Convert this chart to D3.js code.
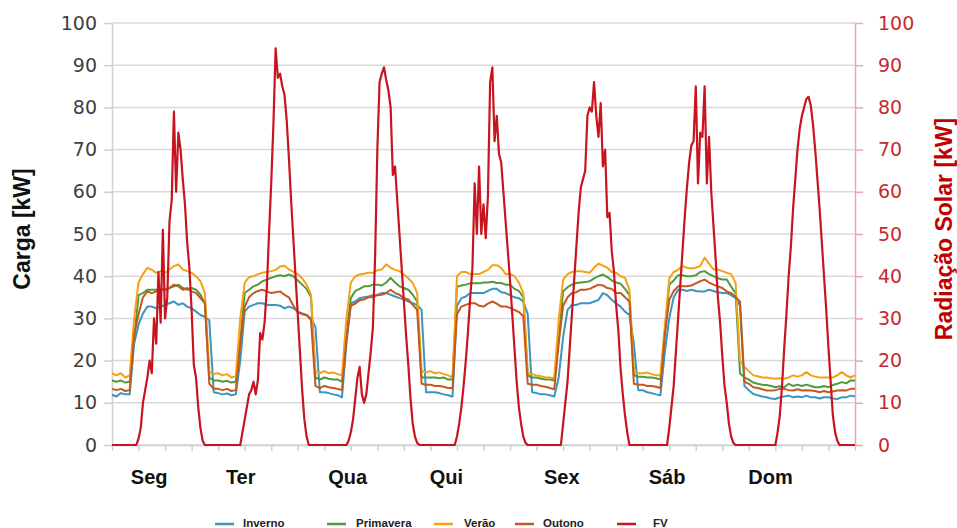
<!DOCTYPE html>
<html><head><meta charset="utf-8">
<script src="https://cdn.jsdelivr.net/npm/d3@7"></script>
<style>body{margin:0;background:#fff}svg{display:block}</style>
</head><body>
<svg id="c" width="957" height="528"></svg>
<script>
// ---------- DATA ----------
const dayLabels = ["Seg","Ter","Qua","Qui","Sex","Sáb","Dom"];
const dayLabelHours = [8.4, 29.1, 53.3, 75.6, 101.7, 125.5, 148.9];
const yTicks = [0,10,20,30,40,50,60,70,80,90,100];
const xTickHours = [0,6,12,18,24,30,36,42,48,54,60,66,72,78,84,90,96,102,108,114,120,126,132,138,144,150,156,162,168];
const seriesNames = ["Inverno","Primavera","Verão","Outono","FV"];

// hourly loads (h = 0..168)
const inverno = [
 11.9,11.5,12.3,12,12,24,28.5,31.2,32.8,32.8,32.4,32.8,33.2,33.6,34,33.2,33.6,32.8,32.4,31.6,30.8,30.4,29.5,12.5,
 12.3,12,12.2,11.8,12,20,31.6,32.8,33.2,33.6,33.6,33.2,33.2,33.2,33,32.4,32.8,32.4,31.6,31.2,30.8,30,28,12.5,
 12.5,12.3,12,11.8,11.3,24,33.6,34,34.8,35,35.2,35.5,35.6,36,36,35.6,35.2,34.8,34.5,34,33.6,33.2,32,12.5,
 12.5,12.5,12.3,12,11.8,11.5,33,34.8,35.2,36,36,36,36,36.5,37,37,36.2,36,35.5,35,34.8,34,31,12.5,
 12.3,12,12,11.8,11.5,16,25.6,32,33.2,33.2,33.6,33.6,33.6,34,34.4,36,35.5,34.4,33.5,32.8,31.6,30.8,24,13,
 13,12.5,12.3,12,11.8,22,30,35,36.8,36.8,36.5,36.8,36.5,36.4,36.4,36.8,36.5,36.2,36,36,35.5,34.8,33,14,
 13,12.1,11.8,11.5,11.3,11,10.9,11.3,11.5,11.7,11.3,11.5,11.3,11.7,11.3,11.3,11,11.3,11.3,11,10.9,11.3,11.3,11.7,11.5
];
const primavera = [
 15.3,15,15.3,14.8,15,25,35.5,36,36.8,36.8,36.8,37,36.8,37.2,37.6,38,37.2,36.8,37.2,36.8,35.6,33.6,16,15.3,
 15.3,15,15.2,14.8,15,25,36,36.8,37.6,38,38.8,39.2,39.6,40,40.2,40,40.4,40,39,38,37,35,16,15.5,
 16,15.7,15.5,15.5,15,26,34.8,36.5,37,37.6,37.6,38,38,37.8,38.5,39.6,38.5,37.6,37.2,36.8,35.6,34,16,16,
 16,16,15.8,16,15.5,15.5,37.5,37.8,38,38.3,38.3,38.3,38.5,38.5,38.7,38.4,38.4,38,38,37,36.5,35,16.5,16,
 16,15.7,15.5,15.5,15.3,25,36.4,37.4,38,38.4,38.5,38.6,38.8,39.5,40,40.4,39.8,39,38.5,38.2,37,35.5,16.5,16.2,
 16.2,16,16,15.8,15.5,27,38,39,40.2,40.2,40,40,40.2,41,41.2,40.5,40,39.5,39.2,39.2,37.5,36,17,16,
 15.5,14.8,14.5,14.3,14.2,14,13.7,13.9,13.7,14.5,14,14.3,14,14.3,14,13.7,13.7,14,13.7,14.2,14.5,14.9,14.6,15.3,15.3
];
const verao = [
 17,16.5,17,16,16.5,30,38.5,40.5,42,41.5,40.8,41.2,40.8,41.6,42.4,42.8,41.6,41.2,40.8,40,38.8,36,17.3,16.9,
 17,16.5,16.8,16,16.3,30,38.5,39.8,40,40.5,40.8,41,41.2,41.5,42.3,42.5,41.6,41,40.5,39.5,38,35.5,17.5,17,
 17.5,17,17.2,16.8,16.5,30,38.5,40,40.4,40.6,40.8,40.8,41.4,41.6,42.8,42,41.5,41.2,40.4,39.5,38.4,36,17.5,17.2,
 17.5,17,17.2,16.8,16.5,16,40,41,41,40.5,40.5,40.5,41,41.5,42.6,42.6,42,40.5,40.5,40,38.5,36,17,16.8,
 16.5,16.3,16,16,15.8,29.6,39.2,40.5,41,41.2,41.2,41,40.8,42,43,42.5,42,41,40.8,40,39.6,36.8,17.3,17,
 17,17.2,16.8,16.5,16.5,28,39.5,41,41.5,42.4,42,41.8,42,42.4,44.4,43,41.6,41.6,41.2,40.8,40.5,38.4,20,18.5,
 17.5,16.5,16.3,16,16,15.8,15.7,15.8,15.7,16,16.5,16.2,16.5,17.3,16.5,16.2,16,16,16,16,16.5,17.3,16.5,16,16.5
];
const outono = [
 13.3,13,13.3,12.8,13,26,31,35,36.4,36,36.4,36.8,36.8,37.2,38,37.6,36.8,37.2,36.4,36,34.8,33.6,14.5,13.3,
 13.3,13,13.3,12.8,13,24,32.8,35,36,36.5,36.8,36.4,36,36.2,36.4,35.6,35,33,31.5,31,30.8,29.6,14,13.5,
 14,13.7,13.5,13.3,13,25,33,33.5,34.3,34.5,35,35,35.5,35.6,36,36.8,36,35.6,34.8,34.5,33.2,32,14.5,14.3,
 14.3,14,14,13.8,13.5,13.5,31,32.8,33.2,33.6,33.6,33,32.8,33.5,34,33.5,32.8,32.8,32.5,32,31.5,30.5,14.5,14.3,
 14.3,14,13.8,13.5,13.2,24,33,35,36,36.2,36.8,36.8,37,37.5,38,37.8,37.2,37,36,36,35,34,14.5,14.3,
 14.3,14,14,13.8,13.5,26,34.4,36.5,37.6,37.6,37.6,37.8,38.3,38.8,39.2,38.5,38,37.6,37.2,36.4,36,35,34,15,
 14.5,13.7,13.5,13.2,12.9,12.9,13,13.3,13.3,13,12.9,13.2,12.9,13,12.9,12.8,12.5,12.8,12.5,12.7,12.9,13,12.9,13.3,13.3
];

// PV (FV) every half hour, one array per day
const fvSeg = [0,0,0,0,0,0,0,0,0,0,0,0,1.5,4,10,13,16,20,17,30,24,41,29,51,30,35,53,58,79,60,74,70,63,57,48,42,32,19,16,9,4,1,0,0,0,0,0,0];
const fvTer = [0,0,0,0,0,0,0,0,0,0,0,3,6,9,12,13,15,12,15.5,26.5,25,29,37,50,62,76,94,87,88,85,83,77,68,58,49,40,31,22,13,6,2,0,0,0,0,0,0,0];
const fvQua = [0,0,0,0,0,0,0,0,0,0,0,1,3,6,11,16,18.5,12,10,12,17,22,28,45,70,86,88,89.5,86.5,84,80,64,66,58,50,42,34,26,19,11,5,2,0.5,0,0,0,0,0];
const fvQui = [0,0,0,0,0,0,0,0,0,0,0,0,2,5,9,14,20,27,35,42,62,50,66,50,57,49,59,86,89.5,72,78,69,67,60,53,46,39,31,23,15,9,5,2,0.5,0,0,0,0];
const fvSex = [0,0,0,0,0,0,0,0,0,0,0,0,5,10,15,23,31,39,47,55,61,63,65,78,80,79,86,78,73,81,66,70,54,55,46,41,33,27,18,12,7,3,0,0,0,0,0,0];
const fvSab = [0,0,0,0,0,0,0,0,0,0,0,0,4,9,14,22,30,38,46,54,61,67,71,72,85,62,74,73,85,62,73,60,52,44,35,29,21,14,10,5,2,0.5,0,0,0,0,0,0];
const fvDom = [0,0,0,0,0,0,0,0,0,0,0,0,0,3,7,14,23,31,40,47,56,63,70,75,78,80,82,82.5,80.5,76,70,63,56,48,40,32,23,15,7,3,1,0,0,0,0,0,0,0,0];

// ---------- CHART ----------
const colors = {"Inverno":"#3a95bf","Primavera":"#4f9a3c","Verão":"#f7a014","Outono":"#c4581f","FV":"#c8141e"};
const svg = d3.select("#c");
const L = 112, R = 855, T = 23, B = 445;
const x = d3.scaleLinear().domain([0,168]).range([L,R]);
const y = d3.scaleLinear().domain([0,100]).range([B,T]);
const yR = d3.scaleLinear().domain([0,100]).range([B,T]);

// gridlines
svg.append("g").selectAll("line").data(yTicks).join("line")
  .attr("x1",L).attr("x2",R).attr("y1",d=>y(d)).attr("y2",d=>y(d))
  .attr("stroke","#d9d9d9").attr("stroke-width",1.5);

// left axis
const gL = svg.append("g").attr("transform",`translate(${L},0)`)
  .call(d3.axisLeft(y).tickValues(yTicks).tickSize(8).tickSizeOuter(0).tickPadding(7));
gL.select(".domain").attr("stroke","#d0d0d0").attr("stroke-width",1.5);
gL.selectAll(".tick line").attr("stroke","#d0d0d0").attr("stroke-width",1.5);
gL.selectAll(".tick text").attr("fill","#404040").style("font-family","'DejaVu Sans'").style("font-size","19px");

// bottom axis
const gB = svg.append("g").attr("transform",`translate(0,${B})`)
  .call(d3.axisBottom(x).tickValues(xTickHours).tickSize(6).tickSizeOuter(0).tickFormat(""));
gB.select(".domain").attr("stroke","#d0d0d0").attr("stroke-width",1.5);
gB.selectAll(".tick line").attr("stroke","#d0d0d0").attr("stroke-width",1.5);

// right axis
const gR = svg.append("g").attr("transform",`translate(${R},0)`)
  .call(d3.axisRight(yR).tickValues(yTicks).tickSize(8).tickSizeOuter(0).tickPadding(15));
gR.select(".domain").attr("stroke","#eba9ab").attr("stroke-width",1.5);
gR.selectAll(".tick line").attr("stroke","#eba9ab").attr("stroke-width",1.5);
gR.selectAll(".tick text").attr("fill","#c62a2f").style("font-family","'DejaVu Sans'").style("font-size","19px");

// day labels
svg.append("g").selectAll("text").data(dayLabels).join("text")
  .attr("x",(d,i)=>x(dayLabelHours[i])).attr("y",484)
  .attr("text-anchor","middle")
  .style("font-family","'Liberation Sans', Arial, sans-serif").style("font-weight","bold").style("font-size","20px")
  .attr("fill","#111").text(d=>d);

// axis titles
svg.append("text").attr("transform","translate(30,229) rotate(-90)")
  .attr("text-anchor","middle")
  .style("font-family","'Liberation Sans', Arial, sans-serif").style("font-weight","bold").style("font-size","23px")
  .attr("fill","#111").text("Carga [kW]");
svg.append("text").attr("transform","translate(952,229) rotate(-90)")
  .attr("text-anchor","middle")
  .style("font-family","'Liberation Sans', Arial, sans-serif").style("font-weight","bold").style("font-size","23px")
  .attr("fill","#c00000").text("Radiação Solar [kW]");

// lines
const hourly = arr => arr.map((v,i)=>[i,v]);
const fvAll = [].concat(fvSeg,fvTer,fvQua,fvQui,fvSex,fvSab,fvDom).map((v,i)=>[i/2,v]);
const lineL = d3.line().x(d=>x(d[0])).y(d=>y(d[1]));
const lineR = d3.line().x(d=>x(d[0])).y(d=>yR(d[1]));
const loadSeries = [["Inverno",inverno],["Primavera",primavera],["Verão",verao],["Outono",outono]];
svg.append("g").selectAll("path").data(loadSeries).join("path")
  .attr("d",d=>lineL(hourly(d[1]))).attr("fill","none")
  .attr("stroke",d=>colors[d[0]]).attr("stroke-width",2).attr("stroke-linejoin","round");
svg.append("path").attr("d",lineR(fvAll)).attr("fill","none")
  .attr("stroke",colors["FV"]).attr("stroke-width",2.2).attr("stroke-linejoin","round");

// legend
const legendX = [215,327,434,515,617];
const lg = svg.append("g").selectAll("g").data(seriesNames).join("g")
  .attr("transform",(d,i)=>`translate(${legendX[i]},0)`);
lg.append("line").attr("x1",0).attr("x2",19).attr("y1",524).attr("y2",524)
  .attr("stroke",d=>colors[d]).attr("stroke-width",2.5);
lg.append("text").attr("x",(d,i)=>[28,29,30,28,36][i]).attr("y",527)
  .style("font-family","'Liberation Sans', Arial, sans-serif").style("font-weight","bold").style("font-size","11.5px")
  .attr("fill","#222").text(d=>d);
</script>
</body></html>
